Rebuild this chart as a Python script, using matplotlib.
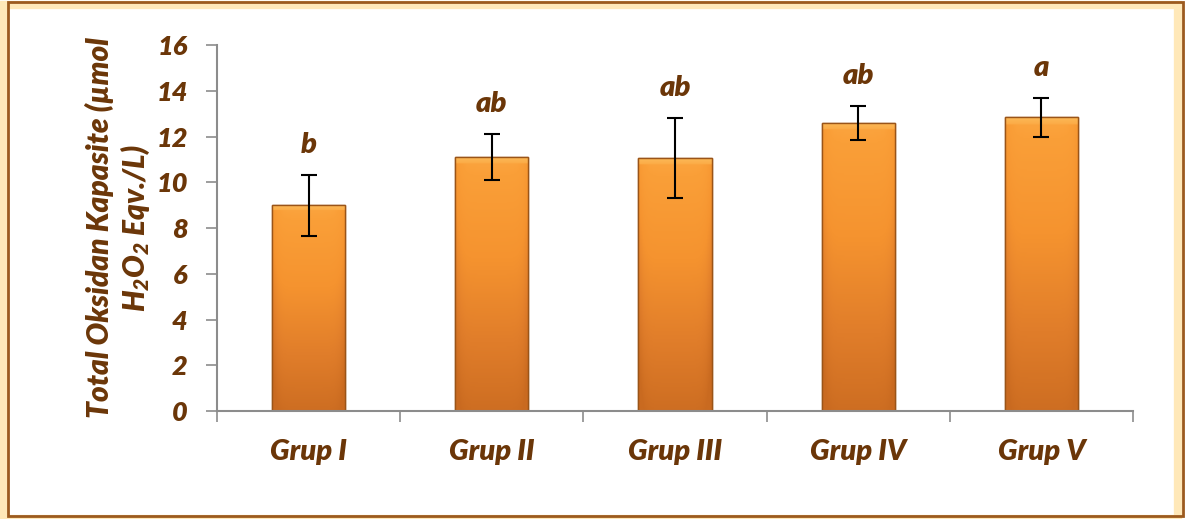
import numpy as np
import matplotlib
matplotlib.use("Agg")
import matplotlib.pyplot as plt
from matplotlib.patches import Rectangle
from matplotlib.colors import LinearSegmentedColormap

# grup ortalamalari ve standart sapmalari
gruplar = ["Grup I", "Grup II", "Grup III", "Grup IV", "Grup V"]
ortalama = [9.0, 11.1, 11.05, 12.6, 12.85]
sapma = [1.33, 1.01, 1.75, 0.75, 0.85]
harfler = ["b", "ab", "ab", "ab", "a"]

KAHVE = "#6b3608"
FONT = ["Lato", "Open Sans", "DejaVu Sans"]
AGIRLIK = "heavy"

plt.rcParams["font.family"] = FONT
plt.rcParams["mathtext.fontset"] = "custom"
plt.rcParams["mathtext.rm"] = "Lato:italic:heavy"
plt.rcParams["mathtext.it"] = "Lato:italic:heavy"
plt.rcParams["mathtext.bf"] = "Lato:italic:heavy"

fig = plt.figure(figsize=(11.92, 5.19), dpi=100)
ax = fig.add_axes([0.182, 0.208, 0.7685, 0.705])

x = np.arange(len(gruplar))
genislik = 0.4

bars = ax.bar(x, ortalama, width=genislik, color="#f39130",
              edgecolor="#9a5418", linewidth=1.0, zorder=2)

# barlara turuncu gradyan + kenar golgesi
cmap = LinearSegmentedColormap.from_list(
    "turuncu", ["#c96a20", "#e07d2a", "#f5932f", "#fa9f38", "#fdbf5e"])
for b in bars:
    x0, w, h = b.get_x(), b.get_width(), b.get_height()
    dikey = np.linspace(0.05, 0.8, 200)[:, None]
    yatay = np.linspace(-1, 1, 60)[None, :]
    grad = dikey - 0.2 * np.abs(yatay) ** 8
    grad[-5:, :] = np.linspace(0.85, 0.95, 5)[:, None]  # ust kenar parlak seridi
    im = ax.imshow(grad, cmap=cmap, vmin=0, vmax=1, origin="lower",
                   extent=[x0, x0 + w, 0, h], aspect="auto", zorder=2.1)
    im.set_clip_path(b)
    kenar = Rectangle((x0, 0), w, h, fill=False, edgecolor="#9a5418",
                      linewidth=1.0, zorder=2.2)
    ax.add_patch(kenar)

ax.errorbar(x, ortalama, yerr=sapma, fmt="none", ecolor="black",
            elinewidth=1.5, capsize=6, capthick=1.5, zorder=3)

for xi, m, s, h in zip(x, ortalama, sapma, harfler):
    ax.text(xi, m + s + 0.75, h, ha="center", va="bottom", color=KAHVE,
            fontsize=21, fontweight=AGIRLIK, fontstyle="italic")

ax.set_xlim(-0.5, len(gruplar) - 0.5)
ax.set_ylim(0, 16)
ax.set_yticks(np.arange(0, 17, 2))
ax.set_xticks(x)
ax.set_xticklabels(gruplar)
ax.set_xticks(np.arange(-0.5, len(gruplar), 1), minor=True)
ax.tick_params(axis="x", which="major", length=0, pad=20)
ax.tick_params(axis="x", which="minor", length=8, width=1.2, color="#8c8c8c")
ax.tick_params(axis="y", length=8, width=1.2, color="#8c8c8c", pad=13)

for lbl in ax.get_xticklabels():
    lbl.set_color(KAHVE)
    lbl.set_fontsize(21)
    lbl.set_fontweight(AGIRLIK)
    lbl.set_fontstyle("italic")
for lbl in ax.get_yticklabels():
    lbl.set_color(KAHVE)
    lbl.set_fontsize(19.5)
    lbl.set_fontweight(AGIRLIK)
    lbl.set_fontstyle("italic")

for k in ["top", "right"]:
    ax.spines[k].set_visible(False)
for k in ["left", "bottom"]:
    ax.spines[k].set_color("#8c8c8c")
    ax.spines[k].set_linewidth(1.5)

ax.set_ylabel("Total Oksidan Kapasite (µmol\n$H_2O_2$ Eqv./L)",
              color=KAHVE, fontsize=21.5, fontweight=AGIRLIK, fontstyle="italic",
              labelpad=3, linespacing=1.2)

# cerceve ve hafif turuncu golge
golge = Rectangle((0.003, 0.0), 0.985, 0.99, transform=fig.transFigure,
                  fill=False, edgecolor="#ffd98a", linewidth=6, alpha=0.6)
cerceve = Rectangle((0.0067, 0.0058), 0.9858, 0.9902, transform=fig.transFigure,
                    fill=False, edgecolor="#9c5a1e", linewidth=2)
fig.patches.extend([golge, cerceve])

fig.savefig("out.png", dpi=100)
